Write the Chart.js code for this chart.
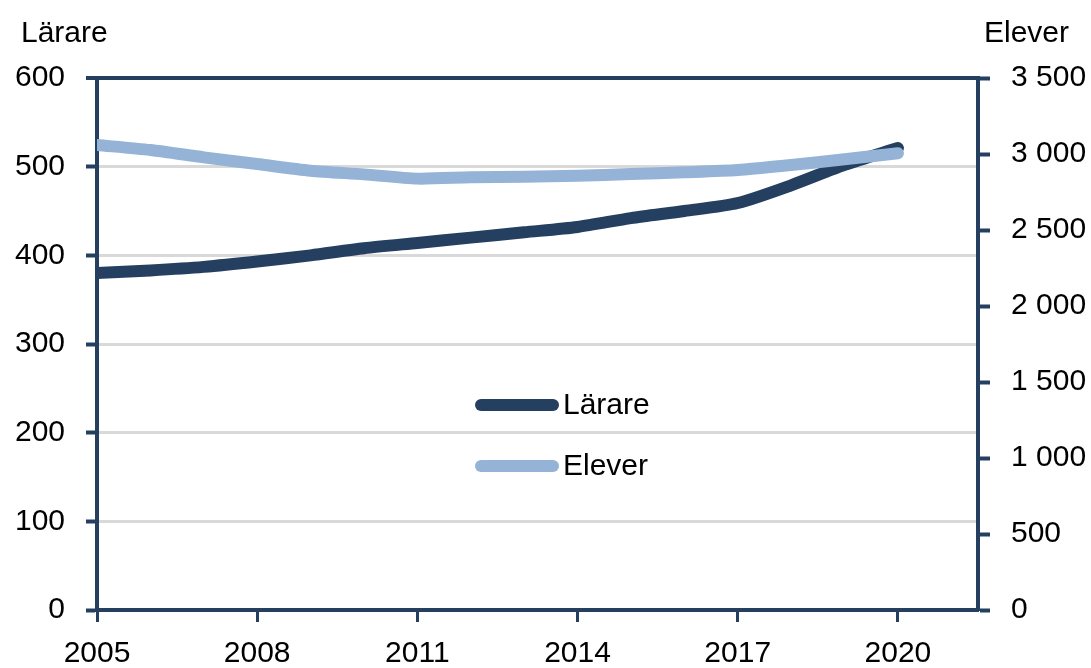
<!DOCTYPE html>
<html>
<head>
<meta charset="utf-8">
<script src="https://cdn.jsdelivr.net/npm/chart.js@4/dist/chart.umd.min.js"></script>
<style>
html,body{margin:0;padding:0;background:#fff;}
#wrap{width:1091px;height:668px;position:relative;}
</style>
</head>
<body>
<div id="wrap"><canvas id="c" width="1091" height="668"></canvas></div>
<script>
const years = [2005,2006,2007,2008,2009,2010,2011,2012,2013,2014,2015,2016,2017,2018,2019,2020];
const larare = [380,383,387,393,400,408,414,420,426,432,442,450,459,479,502,521];
const elever = [3059,3026,2978,2934,2890,2866,2838,2847,2851,2857,2868,2880,2895,2928,2965,3005];
const xTicks = [2005,2008,2011,2014,2017,2020];
const leftTitle = 'Lärare';
const rightTitle = 'Elever';
const seriesNames = ['Lärare','Elever'];

const DARK = '#243F60';
const LIGHT = '#95B3D7';
const GRID = '#d9d9d9';
const FONT = "'Liberation Sans', Arial, sans-serif";

const titlesPlugin = {
  id: 'titlesLegend',
  afterDraw(chart) {
    const ctx = chart.ctx;
    ctx.save();
    ctx.fillStyle = '#000';
    ctx.font = '30px ' + FONT;
    ctx.textBaseline = 'alphabetic';
    ctx.textAlign = 'left';
    ctx.fillText(leftTitle, 21, 42);
    ctx.fillText(rightTitle, 984, 42);
    const items = [
      {label: seriesNames[0], color: DARK, y: 405},
      {label: seriesNames[1], color: LIGHT, y: 466}
    ];
    items.forEach(it => {
      ctx.strokeStyle = it.color;
      ctx.lineWidth = 12;
      ctx.lineCap = 'round';
      ctx.beginPath();
      ctx.moveTo(481, it.y);
      ctx.lineTo(553, it.y);
      ctx.stroke();
      ctx.fillStyle = '#000';
      ctx.textBaseline = 'middle';
      ctx.fillText(it.label, 563, it.y + 1);
    });
    ctx.restore();
  }
};

new Chart(document.getElementById('c'), {
  type: 'line',
  data: {
    datasets: [
      {
        label: seriesNames[0],
        data: years.map((y, i) => ({x: y, y: larare[i]})),
        yAxisID: 'yL',
        borderColor: DARK,
        backgroundColor: DARK,
        borderWidth: 12,
        pointRadius: 0,
        tension: 0.25,
        borderCapStyle: 'round',
        borderJoinStyle: 'round',
        clip: 0,
        order: 1
      },
      {
        label: seriesNames[1],
        data: years.map((y, i) => ({x: y, y: elever[i]})),
        yAxisID: 'yR',
        borderColor: LIGHT,
        backgroundColor: LIGHT,
        borderWidth: 12,
        pointRadius: 0,
        tension: 0.25,
        borderCapStyle: 'round',
        borderJoinStyle: 'round',
        clip: 0,
        order: 0
      }
    ]
  },
  options: {
    responsive: false,
    animation: false,
    devicePixelRatio: 1,
    layout: {padding: {top: 78, left: 0, right: 0, bottom: 0}},
    plugins: {legend: {display: false}, tooltip: {enabled: false}},
    scales: {
      x: {
        type: 'linear',
        min: 2005,
        max: 2021.5,
        afterBuildTicks: s => { s.ticks = xTicks.map(v => ({value: v})); },
        afterFit: s => { s.height = 58; },
        grid: {drawOnChartArea: false, tickLength: 12, tickColor: DARK, tickWidth: 3},
        border: {color: DARK, width: 4},
        ticks: {
          autoSkip: false, maxRotation: 0, padding: 14,
          color: '#000', font: {family: FONT, size: 30},
          callback: v => String(v)
        }
      },
      yL: {
        type: 'linear',
        position: 'left',
        min: 0, max: 600,
        ticks: {stepSize: 100, padding: 21, color: '#000', font: {family: FONT, size: 30}},
        afterFit: s => { s.width = 97; },
        grid: {
          color: c => (c.tick && (c.tick.value === 600)) ? DARK : GRID,
          lineWidth: c => (c.tick && (c.tick.value === 600)) ? 4 : 3,
          tickLength: 11,
          tickColor: DARK,
          tickWidth: 4
        },
        border: {color: DARK, width: 4}
      },
      yR: {
        type: 'linear',
        position: 'right',
        min: 0, max: 3500,
        ticks: {
          stepSize: 500, padding: 21, color: '#000', font: {family: FONT, size: 30},
          callback: v => String(v).replace(/\B(?=(\d{3})+(?!\d))/g, ' ')
        },
        afterFit: s => { s.width = 113; },
        grid: {drawOnChartArea: false, tickLength: 12, tickColor: DARK, tickWidth: 4},
        border: {color: DARK, width: 4}
      }
    }
  },
  plugins: [titlesPlugin]
});
</script>
</body>
</html>
